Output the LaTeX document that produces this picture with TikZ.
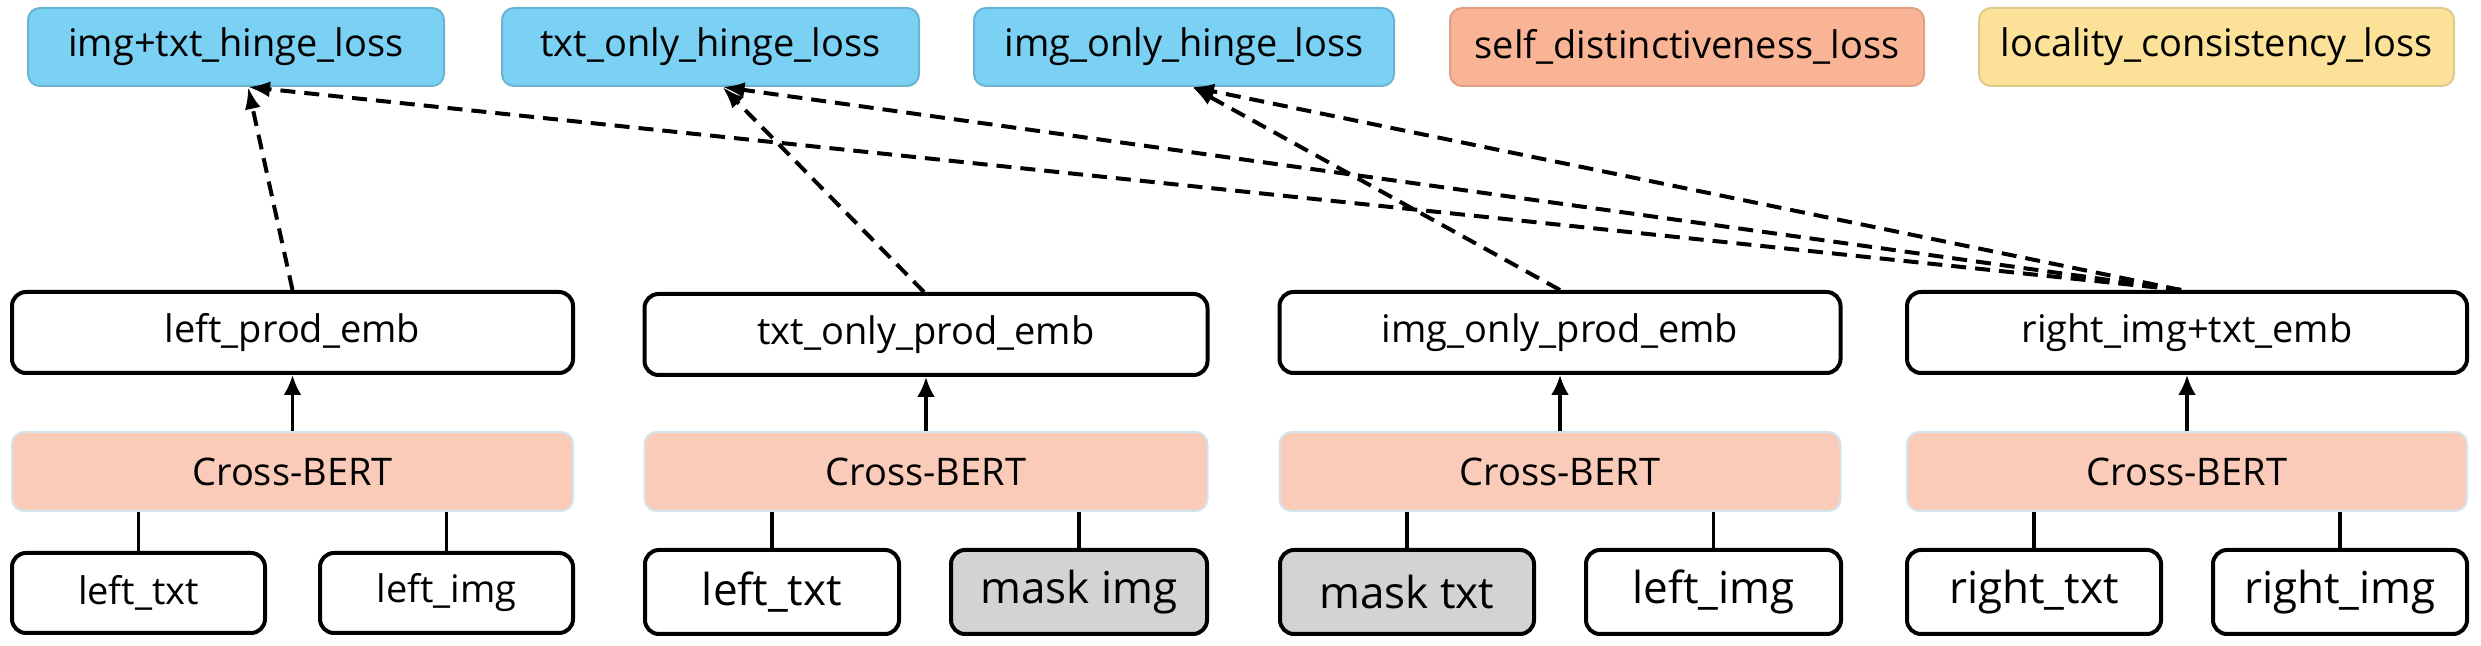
\documentclass[tikz,border=0pt]{standalone}
\usepackage{fontspec}
\setmainfont{Open Sans}
\usetikzlibrary{arrows.meta}
\definecolor{lossblue}{HTML}{7AD1F3}
\definecolor{lossblueb}{HTML}{6AB4D2}
\definecolor{losssalmon}{HTML}{F9B496}
\definecolor{losssalmonb}{HTML}{E0A084}
\definecolor{lossyellow}{HTML}{FCE298}
\definecolor{lossyellowb}{HTML}{DCCB8E}
\definecolor{bertfill}{HTML}{F9CBB8}
\definecolor{bertdraw}{HTML}{D2E4EE}
\definecolor{maskgray}{HTML}{D3D3D3}
\tikzset{
  sz/.style 2 args={minimum width=#1*0.5pt, minimum height=#2*0.5pt},
  lossbox/.style={rectangle, rounded corners=6pt, line width=1pt, inner sep=0pt,
    font=\fontsize{19pt}{22pt}\selectfont},
  embbox/.style={rectangle, rounded corners=7pt, draw=black, line width=2pt, fill=white,
    inner sep=0pt, font=\fontsize{19pt}{22pt}\selectfont},
  bertbox/.style={rectangle, rounded corners=6pt, draw=bertdraw, line width=1pt, fill=bertfill,
    inner sep=0pt, font=\fontsize{19pt}{22pt}\selectfont},
  inbox/.style={rectangle, rounded corners=7pt, draw=black, line width=2pt, fill=white,
    inner sep=0pt, font=\fontsize{22pt}{26pt}\selectfont},
  smallin/.style={font=\fontsize{19pt}{22pt}\selectfont},
  solidarrow/.style={line width=1.75pt, -{Latex[length=10pt,width=9pt]}},
  plainline/.style={line width=1.75pt},
  dasharrow/.style={line width=2pt, dash pattern=on 7.5pt off 4.5pt, -{Latex[length=11pt,width=8pt]}},
}
\begin{document}
\begin{tikzpicture}[x=0.5pt,y=-0.5pt]
\useasboundingbox (0,0) rectangle (2481,646);

% top loss boxes
\node[lossbox, fill=lossblue, draw=lossblueb, sz={416}{78}] (b1) at (236,47) {img+txt\_hinge\_loss};
\node[lossbox, fill=lossblue, draw=lossblueb, sz={417}{78}] (b2) at (710.5,47) {txt\_only\_hinge\_loss};
\node[lossbox, fill=lossblue, draw=lossblueb, sz={420}{78}] (b3) at (1184,47) {img\_only\_hinge\_loss};
\node[lossbox, fill=losssalmon, draw=losssalmonb, sz={474}{78}] (b4) at (1687,47) {self\_distinctiveness\_loss};
\node[lossbox, fill=lossyellow, draw=lossyellowb, sz={475}{78}] (b5) at (2216.5,47) {locality\_consistency\_loss};

% embedding boxes
\node[embbox, sz={561}{81}] (e1) at (292.5,332.5) {left\_prod\_emb};
\node[embbox, sz={563}{81}] (e2) at (926,334.5) {txt\_only\_prod\_emb};
\node[embbox, sz={561}{81}] (e3) at (1560,332.5) {img\_only\_prod\_emb};
\node[embbox, sz={560}{81}] (e4) at (2187,332.5) {right\_img+txt\_emb};

% Cross-BERT boxes
\node[bertbox, sz={561}{79}] (c1) at (292.5,471.5) {Cross-BERT};
\node[bertbox, sz={563}{79}] (c2) at (926,471.5) {Cross-BERT};
\node[bertbox, sz={561}{79}] (c3) at (1560,471.5) {Cross-BERT};
\node[bertbox, sz={560}{79}] (c4) at (2187,471.5) {Cross-BERT};

% input boxes
\node[inbox, smallin, sz={253}{80}] (i1a) at (138.5,593) {left\_txt};
\node[inbox, smallin, sz={253}{80}] (i1b) at (446.5,593) {left\_img};
\node[inbox, sz={254}{84}] (i2a) at (772,592) {left\_txt};
\node[inbox, fill=maskgray, sz={256}{84}] (i2b) at (1079,592) {mask img};
\node[inbox, fill=maskgray, sz={254}{84}] (i3a) at (1407,592) {mask txt};
\node[inbox, sz={255}{84}] (i3b) at (1713.5,592) {left\_img};
\node[inbox, sz={254}{84}] (i4a) at (2034,592) {right\_txt};
\node[inbox, sz={254}{84}] (i4b) at (2340,592) {right\_img};

% input to Cross-BERT lines
\foreach \i/\c in {i1a/c1,i1b/c1,i2a/c2,i2b/c2,i3a/c3,i3b/c3,i4a/c4,i4b/c4}{
  \draw[plainline] (\i.north) -- (\i.north |- \c.south);
}

% Cross-BERT to embedding arrows
\foreach \c/\e in {c1/e1,c2/e2,c3/e3,c4/e4}{
  \draw[solidarrow] (\c.north) -- (\e.south);
}

% arrow targets on loss boxes
\coordinate (t1) at ([xshift=6pt]b1.south);
\coordinate (t2) at ([xshift=6pt]b2.south);
\coordinate (t3) at ([xshift=4pt]b3.south);
\coordinate (s4) at ([xshift=-3pt]e4.north);

% dashed arrows
\draw[dasharrow] (e1.north) -- (t1);
\draw[dasharrow] ([xshift=-1pt]e2.north) -- (t2);
\draw[dasharrow] (e3.north) -- (t3);
\draw[dasharrow] (s4) -- (t1);
\draw[dasharrow] (s4) -- (t2);
\draw[dasharrow] (s4) -- (t3);
\end{tikzpicture}
\end{document}
